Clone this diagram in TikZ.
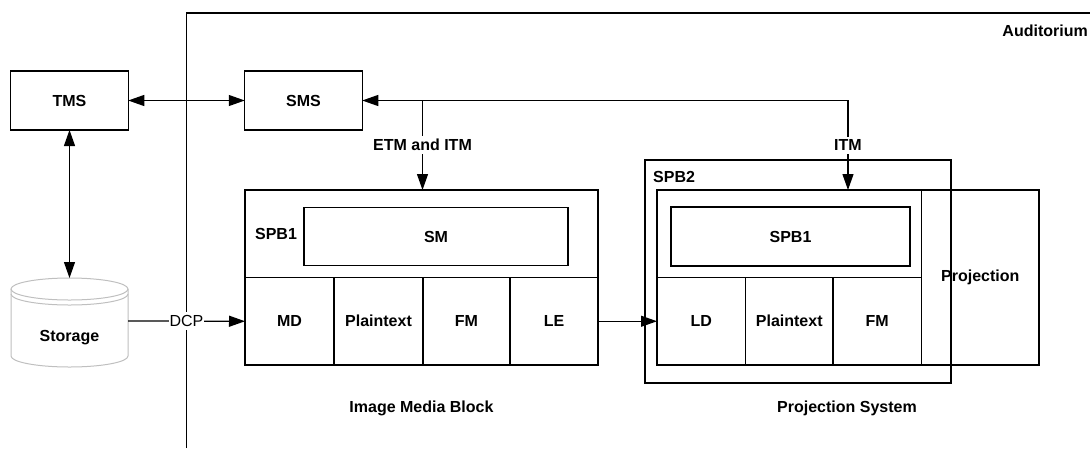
\documentclass[tikz,border=0pt]{standalone}
\usepackage{fontspec}
\setmainfont{Liberation Sans}
\usetikzlibrary{arrows.meta}

\tikzset{
  lbl/.style={font=\fontsize{16}{19}\selectfont\bfseries, inner sep=2pt},
  box/.style={draw, line width=1.2pt, lbl, inner sep=0pt, outer sep=0pt},
  conn/.style={line width=1.2pt},
  tip/.style={-{Triangle[length=16pt,width=11pt]}},
  tips/.style={{Triangle[length=16pt,width=11pt]}-{Triangle[length=16pt,width=11pt]}},
  gap/.style={lbl, fill=white, inner sep=3pt},
  drum/.style={draw=black!25, line width=1pt},
}

\begin{document}
\begin{tikzpicture}[x=1pt, y=-1pt]
\useasboundingbox (0,0) rectangle (1090,448);

% auditorium boundary
\draw[conn] (186.5,448) -- (186.5,13) -- (1090,13);
\node[lbl, anchor=east] (aud) at (1090,31) {Auditorium};

% management systems
\node[box, minimum width=117.5pt, minimum height=59pt] (tms) at (69.5,100.5) {TMS};
\node[box, minimum width=117.5pt, minimum height=59pt] (sms) at (303.5,100.5) {SMS};

% storage drum
\draw[drum] (11,289) -- (11,356)
  arc[start angle=180, end angle=360, x radius=58.5pt, y radius=11pt] -- (128,289);
\draw[drum] (69.5,289) ellipse [x radius=58.5pt, y radius=11pt];
\draw[drum] (11,294) arc[start angle=180, end angle=360, x radius=58.5pt, y radius=11pt];
\node[lbl] (stor) at (69.5,338) {Storage};
\coordinate (stortop) at (69.5,278);
\coordinate (storout) at (128,321);

% image media block
\node[box, minimum width=353pt, minimum height=175pt] (imb) at (421.5,277.5) {};
\draw[conn] (imb.west) -- (imb.east);
\node[lbl] (spbl) at (276,234) {SPB1};
\node[box, minimum width=264pt, minimum height=58.5pt] (sm) at (436,236.5) {SM};
\node[box, minimum width=89pt, minimum height=87.5pt] (md) at (289.5,321.25) {MD};
\node[box, minimum width=89pt, minimum height=87.5pt] (pt) at (378.5,321.25) {Plaintext};
\node[box, minimum width=87pt, minimum height=87.5pt] (fm) at (466.5,321.25) {FM};
\node[box, minimum width=88pt, minimum height=87.5pt] (le) at (554,321.25) {LE};
\node[lbl] (imbl) at (421.5,408) {Image Media Block};

% projection system
\node[box, minimum width=306pt, minimum height=223pt] (spb2) at (798,271.5) {};
\node[lbl, anchor=west] (spb2l) at (651,177) {SPB2};
\node[box, minimum width=382pt, minimum height=175pt] (ps) at (848,277.5) {};
\node[box, minimum width=117.5pt, minimum height=175pt] (proj) at (980.25,277.5) {Projection};
\draw[conn] (ps.west) -- (proj.west);
\node[box, minimum width=239pt, minimum height=59pt] (spbr) at (790.5,236.5) {SPB1};
\node[box, minimum width=88.5pt, minimum height=87.5pt] (ld) at (701.25,321.25) {LD};
\node[box, minimum width=87.5pt, minimum height=87.5pt] (pt2) at (789.25,321.25) {Plaintext};
\node[box, minimum width=88.5pt, minimum height=87.5pt] (fm2) at (877.25,321.25) {FM};
\node[lbl] (psl) at (847,408) {Projection System};

% connectors
\draw[conn, tips] (tms.east) -- (sms.west);
\draw[conn, tips] (tms.south) -- (stortop);
\draw[conn, tip] (storout) -- node[gap, inner xsep=1pt, font=\fontsize{16}{19}\selectfont] {DCP} (md.west);
\draw[conn, tip] (le.east) -- (ld.west);
\coordinate (itmx) at (848,0);
\draw[conn, tips] (sms.east) -| node[gap, pos=0.75] {ITM} (ps.north west -| itmx);
\coordinate (etm) at (422.5,100.5);
\draw[conn, tip] (etm) -- node[gap] {ETM and ITM} (imb.north -| etm);
\end{tikzpicture}
\end{document}
